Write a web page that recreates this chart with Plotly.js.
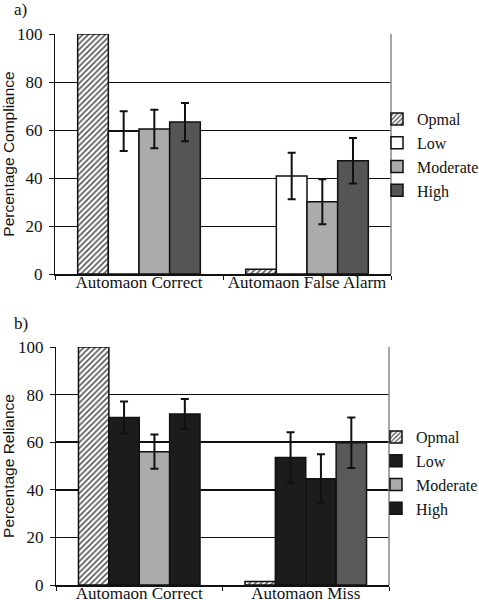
<!DOCTYPE html>
<html>
<head>
<meta charset="utf-8">
<script src="https://cdn.plot.ly/plotly-3.0.1.min.js"></script>
<style>html,body{margin:0;padding:0;background:#fff;}#chart{width:479px;height:600px;}</style>
</head>
<body>
<div id="chart"></div>
<script>
// ---- Data ----
const seriesNames = ['Opmal', 'Low', 'Moderate', 'High'];

const categoriesA = ['Automaon Correct', 'Automaon False Alarm'];
const optimalA = [100, 2];
const lowA = [59.5, 40.8];
const lowErrA = [8.3, 9.7];
const moderateA = [60.4, 30.1];
const moderateErrA = [8.0, 9.4];
const highA = [63.3, 47.2];
const highErrA = [8.0, 9.5];

const categoriesB = ['Automaon Correct', 'Automaon Miss'];
const optimalB = [100, 1.5];
const lowB = [70.4, 53.6];
const lowErrB = [6.7, 10.6];
const moderateB = [56.0, 44.6];
const moderateErrB = [7.2, 10.3];
const highB = [71.8, 59.8];
const highErrB = [6.3, 10.6];

// colours
const colorsA = ['#ffffff', '#ffffff', '#ababab', '#555555'];
const lowColorsB = ['#1c1c1c', '#1c1c1c'];
const moderateColorsB = ['#ababab', '#1c1c1c'];
const highColorsB = ['#1c1c1c', '#595959'];

const serif = 'Liberation Serif';
const sans = 'Liberation Sans';

function errBar(arr) {
  return {type: 'data', array: arr, visible: true, color: '#111', thickness: 2, width: 4};
}
const outline = {color: '#111', width: 1.5};
const hatch = {shape: '/', bgcolor: '#ffffff', fgcolor: '#555555', size: 4, solidity: 0.4, fillmode: 'replace'};

const traces = [
  // Panel a
  {type: 'bar', x: categoriesA, y: optimalA, name: seriesNames[0], xaxis: 'x', yaxis: 'y', legend: 'legend', legendgroup: 'a0',
   marker: {color: '#ffffff', line: outline, pattern: hatch}},
  {type: 'bar', x: categoriesA, y: lowA, name: seriesNames[1], xaxis: 'x', yaxis: 'y', legend: 'legend', legendgroup: 'a1',
   marker: {color: colorsA[1], line: outline}, error_y: errBar(lowErrA)},
  {type: 'bar', x: categoriesA, y: moderateA, name: seriesNames[2], xaxis: 'x', yaxis: 'y', legend: 'legend', legendgroup: 'a2',
   marker: {color: colorsA[2], line: outline}, error_y: errBar(moderateErrA)},
  {type: 'bar', x: categoriesA, y: highA, name: seriesNames[3], xaxis: 'x', yaxis: 'y', legend: 'legend', legendgroup: 'a3',
   marker: {color: colorsA[3], line: outline}, error_y: errBar(highErrA)},
  // Panel b
  {type: 'bar', x: categoriesB, y: optimalB, name: seriesNames[0], xaxis: 'x2', yaxis: 'y2', legend: 'legend2', legendgroup: 'b0',
   marker: {color: '#ffffff', line: outline, pattern: hatch}},
  {type: 'bar', x: categoriesB, y: lowB, name: seriesNames[1], xaxis: 'x2', yaxis: 'y2', legend: 'legend2', legendgroup: 'b1',
   marker: {color: lowColorsB, line: outline}, error_y: errBar(lowErrB)},
  {type: 'bar', x: categoriesB, y: moderateB, name: seriesNames[2], xaxis: 'x2', yaxis: 'y2', legend: 'legend2', legendgroup: 'b2',
   marker: {color: moderateColorsB, line: outline}, error_y: errBar(moderateErrB)},
  {type: 'bar', x: categoriesB, y: highB, name: seriesNames[3], xaxis: 'x2', yaxis: 'y2', legend: 'legend2', legendgroup: 'b3',
   marker: {color: highColorsB, line: outline}, error_y: errBar(highErrB)}
];

function xAxis(domain, anchor) {
  return {
    domain: domain, anchor: anchor, type: 'category',
    showline: true, linecolor: '#111', linewidth: 1.5,
    ticks: 'outside', tickson: 'boundaries', ticklen: 4, tickcolor: '#111', tickwidth: 1,
    showgrid: false, zeroline: false, tickangle: 0, ticklabelstandoff: -8,
    tickfont: {family: serif, size: 17, color: '#111'}, automargin: false
  };
}
function yAxis(domain, anchor, title, gw) {
  return {
    domain: domain, anchor: anchor, range: [0, 100], tickvals: [0, 20, 40, 60, 80, 100],
    showline: true, linecolor: '#111', linewidth: 1,
    ticks: 'outside', ticklen: 5, tickcolor: '#111', tickwidth: 1,
    showgrid: true, gridcolor: '#111', gridwidth: gw, zeroline: false,
    tickfont: {family: serif, size: 17, color: '#111'}, ticklabelstandoff: 3,
    title: {text: title, font: {family: sans, size: 15.5, color: '#111'}, standoff: 2},
    automargin: false
  };
}
function rightBorder(xref, yref) {
  return {type: 'line', xref: xref + ' domain', yref: yref + ' domain', x0: 1, x1: 1, y0: 0, y1: 1,
          line: {color: '#888', width: 1.5}};
}

const layout = {
  width: 479, height: 600,
  margin: {l: 0, r: 0, t: 0, b: 0, autoexpand: false},
  paper_bgcolor: '#ffffff', plot_bgcolor: '#ffffff',
  font: {family: serif, color: '#111'},
  barmode: 'group', bargap: 0.27, bargroupgap: 0,
  xaxis: xAxis([55 / 479, 391 / 479], 'y'),
  yaxis: yAxis([1 - 274 / 600, 1 - 34 / 600], 'x', 'Percentage Compliance', 1),
  xaxis2: xAxis([56 / 479, 389 / 479], 'y2'),
  yaxis2: yAxis([1 - 585 / 600, 1 - 347 / 600], 'x2', 'Percentage Reliance', 1.5),
  legend: {x: 377 / 479, xanchor: 'left', y: 1 - 102 / 600, yanchor: 'top', traceorder: 'grouped', tracegroupgap: 0,
           bgcolor: 'rgba(0,0,0,0)', font: {family: serif, size: 16, color: '#111'}, itemwidth: 30},
  legend2: {x: 376 / 479, xanchor: 'left', y: 1 - 420 / 600, yanchor: 'top', traceorder: 'grouped', tracegroupgap: 0,
            bgcolor: 'rgba(0,0,0,0)', font: {family: serif, size: 16, color: '#111'}, itemwidth: 30},
  shapes: [rightBorder('x', 'y'), rightBorder('x2', 'y2')],
  annotations: [
    {text: 'a)', xref: 'paper', yref: 'paper', x: 12 / 479, y: 1 - 9 / 600, xanchor: 'left', yanchor: 'middle', showarrow: false,
     font: {family: serif, size: 17, color: '#111'}},
    {text: 'b)', xref: 'paper', yref: 'paper', x: 12 / 479, y: 1 - 323 / 600, xanchor: 'left', yanchor: 'middle', showarrow: false,
     font: {family: serif, size: 17, color: '#111'}}
  ],
  showlegend: true
};

Plotly.newPlot('chart', traces, layout, {staticPlot: true, displayModeBar: false});
</script>
</body>
</html>
